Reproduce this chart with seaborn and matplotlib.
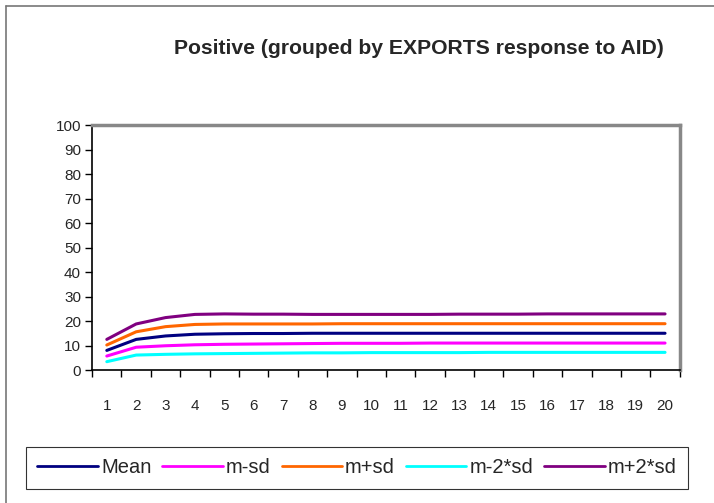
import matplotlib
matplotlib.use("Agg")
import matplotlib.pyplot as plt
import numpy as np
import pandas as pd
import seaborn as sns

sns.set_style("white")
plt.rcParams['font.family'] = ['Liberation Sans', 'DejaVu Sans']

steps = list(range(1, 21))
mean = [8.0, 12.5, 13.9, 14.6, 14.8, 14.9, 14.9, 15.0, 15.0, 15.0,
        15.0, 15.0, 15.0, 15.0, 15.0, 15.0, 15.0, 15.0, 15.0, 15.0]
m_sd = [5.7, 9.3, 9.9, 10.3, 10.5, 10.6, 10.7, 10.8, 10.9, 10.9,
        10.9, 11.0, 11.0, 11.0, 11.0, 11.0, 11.0, 11.0, 11.0, 11.0]
p_sd = [10.2, 15.6, 17.7, 18.6, 18.8, 18.8, 18.8, 18.8, 18.9, 18.9,
        18.9, 18.9, 18.9, 18.9, 18.9, 18.9, 18.9, 18.9, 18.9, 18.9]
m_2sd = [3.4, 6.1, 6.4, 6.6, 6.7, 6.8, 6.9, 7.0, 7.0, 7.1,
         7.1, 7.1, 7.1, 7.2, 7.2, 7.2, 7.2, 7.2, 7.2, 7.2]
p_2sd = [12.5, 18.8, 21.4, 22.7, 22.9, 22.8, 22.8, 22.7, 22.7, 22.7,
         22.7, 22.7, 22.8, 22.8, 22.8, 22.9, 22.9, 22.9, 22.9, 22.9]

names = ["Mean", "m-sd", "m+sd", "m-2*sd", "m+2*sd"]
colors = ["#000080", "#FF00FF", "#FF6600", "#00FFFF", "#800080"]

df = pd.DataFrame({"step": steps * 5,
                   "value": mean + m_sd + p_sd + m_2sd + p_2sd,
                   "series": np.repeat(names, len(steps))})

fig = plt.figure(figsize=(7.14, 5.03), dpi=100)
ax = fig.add_axes([0.129, 0.2644, 0.823, 0.487])

sns.lineplot(data=df, x="step", y="value", hue="series", hue_order=names,
             palette=colors, linewidth=2.2, ax=ax, legend=False)

ax.set_xlim(0.5, 20.5)
ax.set_ylim(0, 100)
ax.set_yticks(range(0, 101, 10))
ax.set_xticks(steps)
ax.set_xticks(np.arange(0.5, 21, 1), minor=True)
ax.tick_params(axis="x", which="major", length=0, pad=21, labelsize=11)
ax.tick_params(axis="x", which="minor", length=5, width=1, direction="out", color="black", bottom=True)
ax.tick_params(axis="y", length=5, width=1, direction="out", color="black", left=True, labelsize=11, pad=3)
ax.set_xlabel("")
ax.set_ylabel("")

for side in ["left", "bottom"]:
    ax.spines[side].set_color("black")
    ax.spines[side].set_linewidth(1.2)
for side in ["top", "right"]:
    ax.spines[side].set_color("#888888")
    ax.spines[side].set_linewidth(2.5)

fig.text(0.586, 0.904, "Positive (grouped by EXPORTS response to AID)",
         ha="center", va="center", fontsize=15.2, fontweight="bold")

handles = [plt.Line2D([], [], color=c, linewidth=2) for c in colors]
leg = fig.legend(handles, names, loc="center", bbox_to_anchor=(0.5, 0.0696),
                 ncol=5, frameon=True, fancybox=False, edgecolor="black",
                 fontsize=14.5, handlelength=3.0, handletextpad=0.15,
                 columnspacing=0.55, borderpad=0.55)
leg.get_frame().set_linewidth(0.8)

# outer chart frame
fig.add_artist(plt.Line2D([0.008, 0.008], [0.0, 0.988], color="#777777", linewidth=1.2))
fig.add_artist(plt.Line2D([0.008, 1.0], [0.988, 0.988], color="#777777", linewidth=1.2))

fig.savefig("out.png", dpi=100)
